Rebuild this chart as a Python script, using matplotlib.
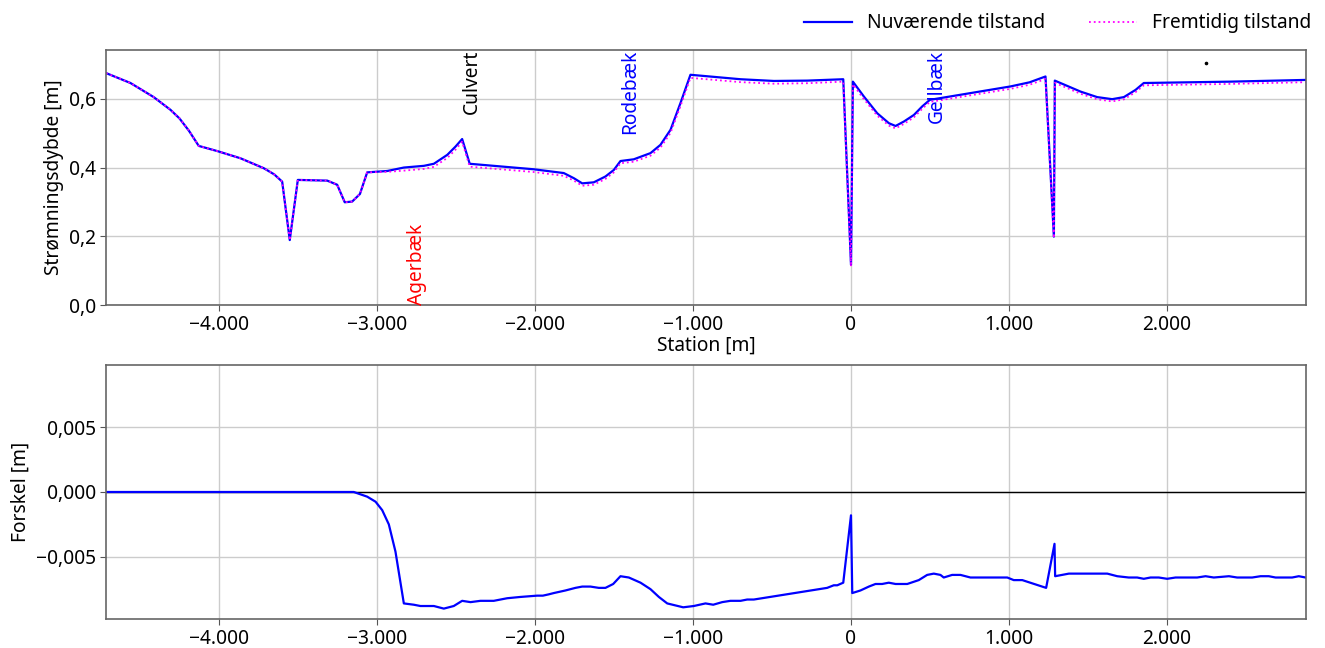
import matplotlib
matplotlib.use("Agg")
import matplotlib.pyplot as plt
import matplotlib.ticker as mticker
import matplotlib.transforms as mtransforms

plt.rcParams['font.family'] = ['Noto Sans', 'DejaVu Sans']
plt.rcParams['axes.unicode_minus'] = True

# ---------------- data ----------------
station = [-4715, -4560, -4413, -4307, -4250, -4190, -4128, -4011, -3864, -3716, -3650, -3600,
           -3552, -3501, -3315, -3252, -3204, -3157, -3108, -3062, -2935, -2830, -2703,
           -2640, -2555, -2503, -2461, -2413, -2008, -1818, -1754, -1701, -1628, -1554,
           -1501, -1459, -1375, -1269, -1206, -1142, -1079, -1016, -699, -488, -277, -49,
           0, 12, 81, 166, 240, 282, 335, 398, 451, 499, 1009, 1130, 1231, 1284, 1290,
           1453, 1558, 1653, 1727, 1801, 1853, 2402, 2877]

depth_now = [0.675, 0.646, 0.605, 0.568, 0.543, 0.507, 0.463, 0.448, 0.427, 0.398, 0.380, 0.359,
             0.189, 0.364, 0.362, 0.350, 0.299, 0.301, 0.323, 0.386, 0.390, 0.400, 0.405,
             0.411, 0.437, 0.461, 0.483, 0.411, 0.395, 0.384, 0.369, 0.354, 0.357, 0.374,
             0.393, 0.419, 0.424, 0.442, 0.466, 0.510, 0.588, 0.670, 0.657, 0.652, 0.653, 0.657,
             0.117, 0.650, 0.607, 0.558, 0.529, 0.521, 0.534, 0.553, 0.578, 0.597, 0.636, 0.648,
             0.665, 0.199, 0.653, 0.621, 0.605, 0.599, 0.605, 0.626, 0.646, 0.650, 0.655]

depth_future = [0.675, 0.646, 0.605, 0.568, 0.543, 0.507, 0.463, 0.448, 0.427, 0.398, 0.380, 0.359,
                0.189, 0.364, 0.362, 0.350, 0.299, 0.301, 0.323, 0.386, 0.3875, 0.391, 0.396,
                0.402, 0.428, 0.452, 0.475, 0.4025, 0.387, 0.376, 0.362, 0.347, 0.350, 0.367,
                0.386, 0.4125, 0.417, 0.4345, 0.458, 0.501, 0.579, 0.661, 0.6486, 0.644, 0.6454, 0.650,
                0.112, 0.642, 0.5995, 0.551, 0.522, 0.514, 0.527, 0.546, 0.571, 0.591, 0.629, 0.641,
                0.6576, 0.195, 0.6465, 0.6147, 0.5987, 0.5925, 0.5984, 0.6194, 0.6393, 0.6434, 0.6484]

diff_station = [-4715, -3147, -3062, -3009, -2967, -2925, -2883, -2830, -2767, -2725, -2640,
                -2577, -2514, -2461, -2408, -2345, -2261, -2176, -2092, -1986, -1950, -1913,
                -1881, -1807, -1744, -1701, -1649, -1596, -1554, -1505, -1459, -1406, -1332,
                -1269, -1216, -1163, -1062, -995, -921, -872, -815, -763, -699, -657, -615,
                -151, -109, -87, -49, 0, 8, 60, 113, 155, 197, 239, 282, 356, 429, 482, 524,
                566, 587, 640, 693, 756, 840, 989, 1030, 1084, 1235, 1288, 1292, 1379, 1622,
                1685, 1758, 1811, 1853, 1896, 1948, 2001, 2054, 2191, 2244, 2296, 2392, 2444,
                2539, 2592, 2644, 2687, 2792, 2834, 2877]

diff = [0.0, 0.0, -0.00036, -0.00075, -0.0014, -0.0025, -0.0046, -0.0086, -0.0087, -0.0088, -0.0088,
        -0.0090, -0.0088, -0.0084, -0.0085, -0.0084, -0.0084, -0.0082, -0.0081, -0.0080, -0.0080, -0.0079,
        -0.0078, -0.0076, -0.0074, -0.0073, -0.0073, -0.0074, -0.0074, -0.0071, -0.0065, -0.0066, -0.0070,
        -0.0075, -0.0081, -0.0086, -0.0089, -0.0088, -0.0086, -0.0087, -0.0085, -0.0084, -0.0084, -0.0083, -0.0083,
        -0.0074, -0.0072, -0.0072, -0.0070, -0.0018, -0.0078, -0.0076, -0.0073, -0.0071, -0.0071, -0.0070,
        -0.0071, -0.0071, -0.0068, -0.0064, -0.0063,
        -0.0064, -0.0066, -0.0064, -0.0064, -0.0066, -0.0066, -0.0066, -0.0068, -0.0068, -0.0074, -0.0040,
        -0.0065, -0.0063, -0.0063,
        -0.0065, -0.0066, -0.0066, -0.0067, -0.0066, -0.0066, -0.0067, -0.0066, -0.0066, -0.0065, -0.0066,
        -0.0065, -0.0066,
        -0.0066, -0.0065, -0.0065, -0.0066, -0.0066, -0.0065, -0.0066]

labels = ["Agerbæk", "Culvert", "Rodebæk", "Gellbæk"]
label_station = [-2813, -2461, -1459, 480]
label_colors = ["red", "black", "blue", "blue"]

marker_station = [2247]
marker_depth = [0.705]

xlim = (-4715, 2880)

# ---------------- figure ----------------
fig = plt.figure(figsize=(13.25, 6.48), dpi=100)
ax1 = fig.add_axes([0.080, 0.5293, 0.9057, 0.3935])
ax2 = fig.add_axes([0.080, 0.0448, 0.9057, 0.3919])

fs = 13.8

def thousands(x, pos):
    s = f"{abs(x):,.0f}".replace(",", ".")
    return ("\u2212" if x < 0 else "") + s

def dec1(x, pos):
    s = f"{abs(x):.1f}".replace(".", ",")
    return ("\u2212" if x < -1e-12 else "") + s

def dec3(x, pos):
    s = f"{abs(x):.3f}".replace(".", ",")
    return ("\u2212" if x < -1e-12 else "") + s

for ax in (ax1, ax2):
    ax.set_xlim(*xlim)
    ax.xaxis.set_major_locator(mticker.MultipleLocator(1000))
    ax.xaxis.set_major_formatter(mticker.FuncFormatter(thousands))
    ax.grid(True, color="#cccccc", linewidth=1.0)
    ax.set_axisbelow(True)
    ax.tick_params(labelsize=fs, color="#555555", length=4, pad=3)
    for sp in ax.spines.values():
        sp.set_color("#666666")
        sp.set_linewidth(1.2)

ax1.plot(station, depth_now, color="blue", linewidth=1.6, label="Nuværende tilstand")
ax1.plot(station, depth_future, color="magenta", linewidth=1.3, linestyle=":", label="Fremtidig tilstand")
ax1.plot(marker_station, marker_depth, linestyle="none", marker="o", markersize=1.6, color="black")
ax1.set_ylim(0, 0.742)
ax1.yaxis.set_major_locator(mticker.MultipleLocator(0.2))
ax1.yaxis.set_major_formatter(mticker.FuncFormatter(dec1))
ax1.set_ylabel("Strømningsdybde [m]", fontsize=fs, labelpad=4)
ax1.set_xlabel("Station [m]", fontsize=fs, labelpad=1)

trans = mtransforms.blended_transform_factory(ax1.transData, ax1.transAxes)
for name, xs, c in zip(labels, label_station, label_colors):
    if name == "Agerbæk":
        ax1.text(xs, 0.0, name, rotation=90, color=c, fontsize=fs, transform=trans,
                 ha="left", va="bottom")
    else:
        ax1.text(xs, 1.0, name, rotation=90, color=c, fontsize=fs, transform=trans,
                 ha="left", va="top")

ax2.axhline(0, color="black", linewidth=1.0)
ax2.plot(diff_station, diff, color="blue", linewidth=1.6)
ax2.set_ylim(-0.0098, 0.0098)
ax2.yaxis.set_major_locator(mticker.MultipleLocator(0.005))
ax2.yaxis.set_major_formatter(mticker.FuncFormatter(dec3))
ax2.set_ylabel("Forskel [m]", fontsize=fs, labelpad=4)

fig.legend(loc="upper right", bbox_to_anchor=(1.0, 1.0), ncol=2, frameon=False,
           fontsize=fs, handlelength=2.5, columnspacing=2.3, borderaxespad=0.3)

fig.savefig("out.png", dpi=100)
